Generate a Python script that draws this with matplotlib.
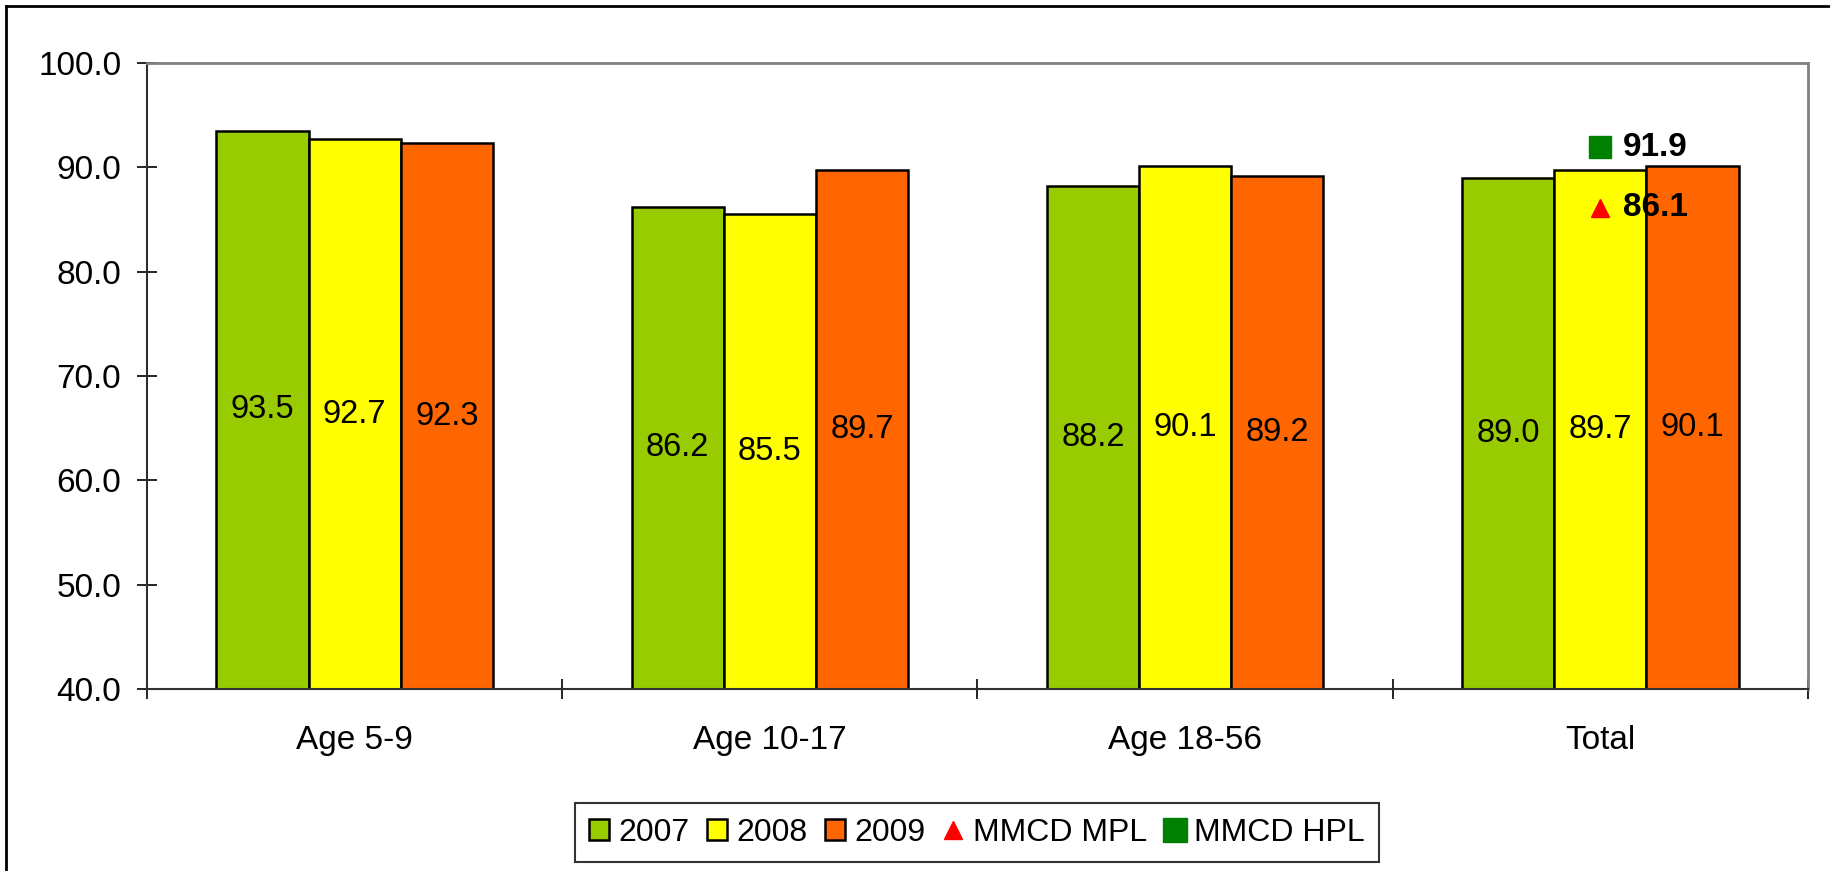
import numpy as np
import matplotlib
matplotlib.use('Agg')
from matplotlib import pyplot as plt
from matplotlib.lines import Line2D
from matplotlib.patches import Patch

plt.rcParams['font.family'] = ['Liberation Sans', 'DejaVu Sans']

categories = ['Age 5-9', 'Age 10-17', 'Age 18-56', 'Total']
years = ['2007', '2008', '2009']
v2007 = [93.5, 86.2, 88.2, 89.0]
v2008 = [92.7, 85.5, 90.1, 89.7]
v2009 = [92.3, 89.7, 89.2, 90.1]
colors = ['#99CC00', '#FFFF00', '#FF6600']

mpl_val = 86.1   # MMCD MPL (Total only)
hpl_val = 91.9   # MMCD HPL (Total only)

fig = plt.figure(figsize=(18.31, 8.71), dpi=100)
ax = fig.add_axes([0.0803, 0.209, 0.9071, 0.7187])

x = np.arange(len(categories))
w = 0.222
ymin = 40.0
for k, vals in enumerate([v2007, v2008, v2009]):
    xs = x + (k - 1) * w
    heights = np.array(vals) - ymin
    ax.bar(xs, heights, w, bottom=ymin, color=colors[k], edgecolor='black', linewidth=1.8, zorder=2)
    for xi, v in zip(xs, vals):
        ax.text(xi, (ymin + v) / 2, '{:.1f}'.format(v), ha='center', va='center', fontsize=23.5, zorder=3)

# performance levels on Total
ax.plot([x[-1]], [hpl_val], 's', color='#008000', markersize=16.5, zorder=4)
ax.plot([x[-1]], [mpl_val], '^', color='#FF0000', markersize=13, zorder=4)
ax.annotate('{:.1f}'.format(hpl_val), (x[-1], hpl_val), xytext=(16, 0), textcoords='offset points',
            ha='left', va='center', fontsize=24, fontweight='bold', zorder=5)
ax.annotate('{:.1f}'.format(mpl_val), (x[-1], mpl_val), xytext=(16, 0), textcoords='offset points',
            ha='left', va='center', fontsize=24, fontweight='bold', zorder=5)

ax.set_xlim(-0.5, 3.5)
ax.set_ylim(40, 100)
ax.set_yticks(np.arange(40, 101, 10))
ax.set_yticklabels(['{:.1f}'.format(t) for t in np.arange(40, 101, 10)])
ax.set_xticks(np.arange(-0.5, 3.6, 1.0))
ax.set_xticklabels([])
ax.set_xticks(x, minor=True)
ax.set_xticklabels(categories, minor=True)
ax.tick_params(axis='x', which='minor', length=0, pad=26, labelsize=24)
ax.tick_params(axis='x', which='major', direction='inout', length=15, width=1.2)
ax.tick_params(axis='y', direction='inout', length=15, width=1.2, labelsize=24, pad=11)

for s in ['top', 'right']:
    ax.spines[s].set_color('#808080')
    ax.spines[s].set_linewidth(2)
for s in ['left', 'bottom']:
    ax.spines[s].set_color('#303030')
    ax.spines[s].set_linewidth(1.5)

handles = [Patch(facecolor=c, edgecolor='black', linewidth=1.8) for c in colors]
handles.append(Line2D([], [], marker='^', color='#FF0000', linestyle='none', markersize=13))
handles.append(Line2D([], [], marker='s', color='#008000', linestyle='none', markersize=17))
labels = years + ['MMCD MPL', 'MMCD HPL']
leg = fig.legend(handles, labels, loc='center', bbox_to_anchor=(0.5336, 0.0442),
                 ncol=5, fontsize=23, frameon=True, fancybox=False, handlelength=0.62,
                 handleheight=0.65, handletextpad=0.3, columnspacing=0.55, borderpad=0.45,
                 borderaxespad=0)
leg.get_frame().set_edgecolor('black')
leg.get_frame().set_linewidth(1.5)

# outer chart frame (left and top edges visible)
fig.add_artist(Line2D([0.0033, 0.0033], [0.0, 0.993], transform=fig.transFigure, color='black', linewidth=2))
fig.add_artist(Line2D([0.0033, 1.0], [0.993, 0.993], transform=fig.transFigure, color='black', linewidth=2))

fig.savefig('out.png', dpi=100)
